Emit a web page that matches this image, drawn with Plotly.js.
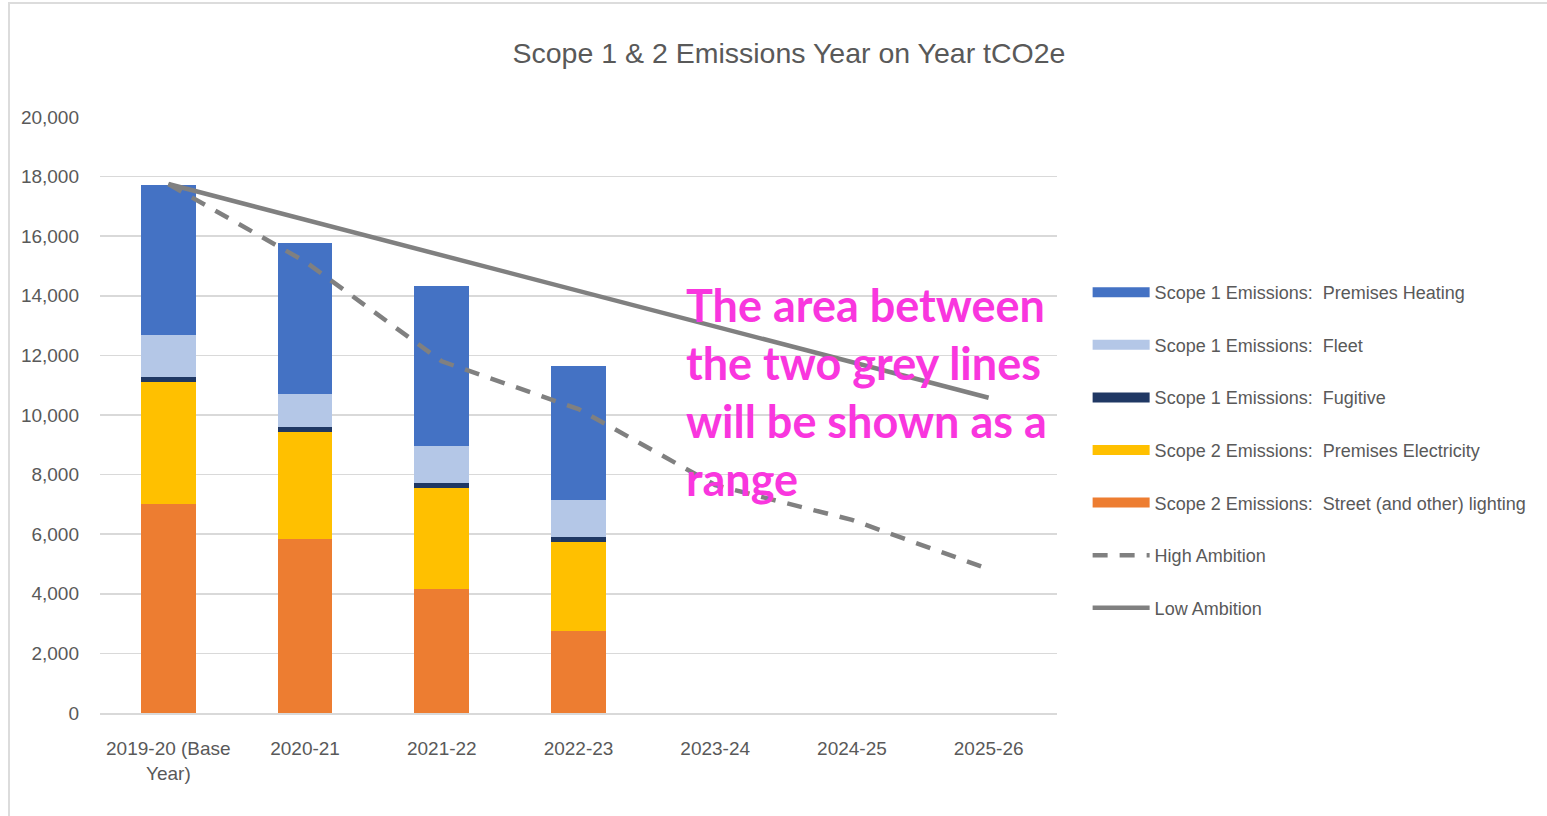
<!DOCTYPE html>
<html>
<head>
<meta charset="utf-8">
<script src="https://cdn.plot.ly/plotly-3.0.1.min.js"></script>
<style>
  html, body { margin: 0; padding: 0; background: #ffffff; }
  #chart { position: absolute; left: 0; top: 0; width: 1547px; height: 816px; }
  #frame { position: absolute; left: 8px; top: 2px; width: 1545px; height: 820px;
           border-left: 2px solid #dcdcdc; border-top: 2px solid #dcdcdc; pointer-events: none; }
</style>
</head>
<body>
<div id="chart"></div>
<div id="frame"></div>
<script>
// ---- Data (tCO2e) ----
const categories = ['2019-20 (Base<br>Year)', '2020-21', '2021-22', '2022-23', '2023-24', '2024-25', '2025-26'];
const barCategories = categories.slice(0, 4);

const streetLighting = [7000, 5830, 4160, 2750];
const premisesElectricity = [4100, 3610, 3390, 2990];
const fugitive = [160, 170, 170, 150];
const fleet = [1420, 1110, 1250, 1270];
const premisesHeating = [5040, 5040, 5370, 4490];

const highAmbition = [17750, 15150, 11800, 10200, 7650, 6480, 4830];
const lowAmbition = [17750, 16555, 15360, 14165, 12970, 11775, 10580];

const seriesNames = [
  'Scope 1 Emissions:\u00a0 Premises Heating',
  'Scope 1 Emissions:\u00a0 Fleet',
  'Scope 1 Emissions:\u00a0 Fugitive',
  'Scope 2 Emissions:\u00a0 Premises Electricity',
  'Scope 2 Emissions:\u00a0 Street (and other) lighting',
  'High Ambition',
  'Low Ambition'
];
const noteLines = ['The area between', 'the two grey lines', 'will be shown as a', 'range'];

// ---- Styles ----
const colors = {
  heating: '#4472C4', fleet: '#B4C7E7', fugitive: '#203864',
  elec: '#FFC000', street: '#ED7D31', line: '#808080'
};
const sans = '"Liberation Sans", Arial, sans-serif';

const barSeries = [
  { y: streetLighting, c: colors.street, n: seriesNames[4] },
  { y: premisesElectricity, c: colors.elec, n: seriesNames[3] },
  { y: fugitive, c: colors.fugitive, n: seriesNames[2] },
  { y: fleet, c: colors.fleet, n: seriesNames[1] },
  { y: premisesHeating, c: colors.heating, n: seriesNames[0] }
];

const traces = [];
barSeries.forEach(s => {
  traces.push({
    type: 'bar', x: barCategories, y: s.y, name: s.n,
    marker: { color: s.c, line: { width: 0 } },
    showlegend: false, hoverinfo: 'skip'
  });
});

const legendOrder = [
  [seriesNames[0], colors.heating], [seriesNames[1], colors.fleet],
  [seriesNames[2], colors.fugitive], [seriesNames[3], colors.elec],
  [seriesNames[4], colors.street]
];
legendOrder.forEach((e, i) => {
  traces.push({
    type: 'scatter', mode: 'lines', x: [null], y: [null], name: e[0],
    line: { color: e[1], width: 13 }, legendgroup: 'g' + i, showlegend: true
  });
});

traces.push({
  type: 'scatter', mode: 'lines', x: categories, y: highAmbition, name: seriesNames[5],
  line: { color: colors.line, width: 4.5, dash: '15px,12px' }, legendgroup: 'g5', hoverinfo: 'skip'
});
traces.push({
  type: 'scatter', mode: 'lines', x: categories, y: lowAmbition, name: seriesNames[6],
  line: { color: colors.line, width: 4.5 }, legendgroup: 'g6', hoverinfo: 'skip'
});

const noteY = [0.684, 0.587, 0.4895, 0.392];
const annotations = noteLines.map((t, i) => ({
  text: t, xref: 'paper', yref: 'paper', x: 0.6103, y: noteY[i],
  xanchor: 'left', yanchor: 'middle', showarrow: false,
  font: { family: 'Lato, sans-serif', size: 45, color: '#F936DE', weight: 'bold' }
}));

const layout = {
  width: 1547, height: 816,
  margin: { l: 100, r: 490, t: 117, b: 103, autoexpand: false },
  paper_bgcolor: '#ffffff', plot_bgcolor: '#ffffff',
  barmode: 'stack', bargap: 0.6,
  title: {
    text: 'Scope 1 & 2 Emissions Year on Year tCO2e',
    x: 0.51, xref: 'container', y: 0.935, yref: 'container', xanchor: 'center', yanchor: 'middle',
    font: { family: sans, size: 28.5, color: '#595959' }
  },
  xaxis: {
    type: 'category', range: [-0.5, 6.5], fixedrange: true,
    showgrid: false, showline: true, linecolor: '#d9d9d9', linewidth: 1.5,
    ticks: '', ticklabelstandoff: 18,
    tickfont: { family: sans, size: 19, color: '#595959' }
  },
  yaxis: {
    range: [0, 20000], dtick: 2000, tickformat: ',d', fixedrange: true,
    showgrid: true, gridcolor: '#d9d9d9', gridwidth: 1.5, zeroline: false,
    ticks: '', ticklabelstandoff: 20,
    tickfont: { family: sans, size: 19, color: '#595959' }
  },
  legend: {
    x: 1.032, xanchor: 'left', y: 0.7366, yanchor: 'top',
    traceorder: 'grouped', tracegroupgap: 26.2, itemwidth: 57,
    font: { family: sans, size: 18, color: '#595959' },
    bgcolor: 'rgba(0,0,0,0)'
  },
  annotations: annotations,
  showlegend: true
};

Plotly.newPlot('chart', traces, layout, { staticPlot: true, displayModeBar: false });
</script>
</body>
</html>
